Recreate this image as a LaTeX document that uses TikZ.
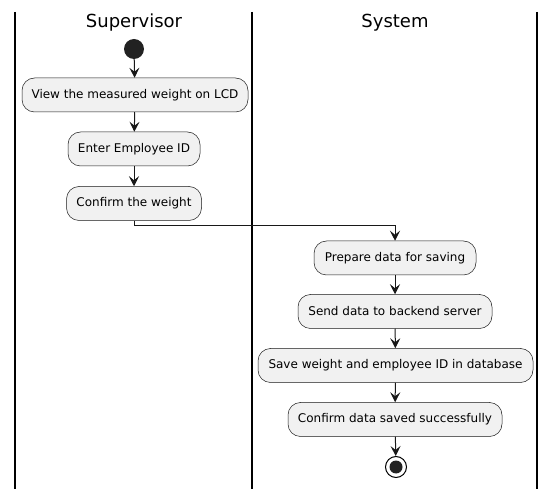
\documentclass[tikz,border=0pt]{standalone}
\usepackage{fontspec}
\setmainfont{DejaVu Sans}
\usetikzlibrary{arrows.meta}
\definecolor{boxfill}{HTML}{F1F1F1}
\definecolor{boxline}{HTML}{181818}
\definecolor{dotfill}{HTML}{222222}
\begin{document}
\begin{tikzpicture}[x=1pt,y=-1pt,
  act/.style={draw=boxline, line width=0.5pt, fill=boxfill, rounded corners=12.5pt,
    minimum height=34pt, inner xsep=0pt, inner ysep=0pt, font=\fontsize{12}{14}\selectfont},
  flow/.style={draw=boxline, line width=1pt, -{Stealth[length=10pt,width=10pt,inset=4pt]}},
  lane/.style={line width=1.5pt, draw=black},
  lanetitle/.style={font=\fontsize{18}{20}\selectfont, inner sep=0pt}]
\useasboundingbox (0,0) rectangle (555,489);
% swimlanes
\draw[lane] (15,12) -- (15,489);
\draw[lane] (252,12) -- (252,489);
\draw[lane] (537,12) -- (537,489);
\node[lanetitle] (t1) at (134,23) {Supervisor};
\node[lanetitle] (t2) at (395,23) {System};
% start
\node[circle, fill=dotfill, minimum size=20pt, inner sep=0pt] (start) at (134,49) {};
% Supervisor actions
\node[act, minimum width=226pt] (a1) at (135,95) {View the measured weight on LCD};
\node[act, minimum width=132pt] (a2) at (134,149) {Enter Employee ID};
\node[act, minimum width=135pt] (a3) at (134,203.5) {Confirm the weight};
% System actions
\node[act, minimum width=162pt] (a4) at (395,258) {Prepare data for saving};
\node[act, minimum width=194pt] (a5) at (395,311.5) {Send data to backend server};
\node[act, minimum width=275pt] (a6) at (395.5,365.5) {Save weight and employee ID in database};
\node[act, minimum width=214pt] (a7) at (395,419.5) {Confirm data saved successfully};
% end
\node[circle, draw=black, line width=1pt, fill=white, minimum size=21pt, inner sep=0pt] (stop) at (396,467) {};
\node[circle, fill=dotfill, minimum size=13pt, inner sep=0pt] (stopdot) at (stop.center) {};
% flows
\draw[flow] (start) -- (a1);
\draw[flow] (a1) -- (a2);
\draw[flow] (a2) -- (a3);
\draw[flow] (a3.south) -- ++(0,5) -| (a4.north);
\draw[flow] (a4) -- (a5);
\draw[flow] (a5) -- (a6);
\draw[flow] (a6) -- (a7);
\draw[flow] (a7) -- (stop);
\end{tikzpicture}
\end{document}
